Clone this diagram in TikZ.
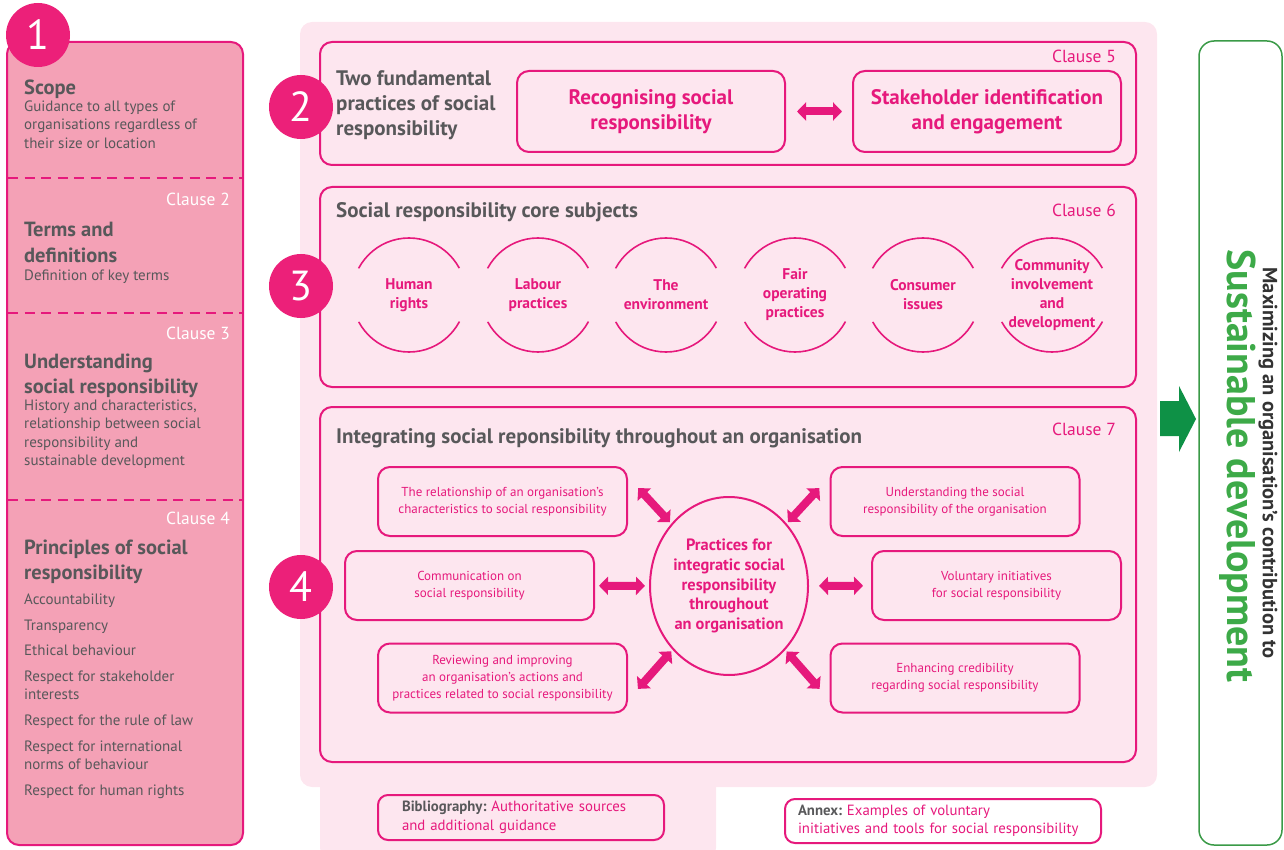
\documentclass[tikz,border=0pt]{standalone}
\usepackage{fontspec}
\setmainfont{PT Sans}
\usetikzlibrary{shapes.geometric,arrows.meta}

\definecolor{isopink}{HTML}{E6197C}
\definecolor{dotpink}{HTML}{EC2079}
\definecolor{panelpink}{HTML}{F4A1B6}
\definecolor{palepink}{HTML}{FDE6EF}
\definecolor{textgrey}{HTML}{58585A}
\definecolor{darktext}{HTML}{333333}
\definecolor{arrowgreen}{HTML}{0E9146}
\definecolor{textgreen}{HTML}{3DAA48}
\definecolor{boxgreen}{HTML}{3A9A47}

\newcommand{\fs}[2]{\fontsize{#1}{#2}\selectfont}

% multi-line nodes below sit on the baseline of their last line
\tikzset{
	numdot/.style={circle,fill=dotpink,minimum size=64pt,inner sep=0pt,text=white,font=\fs{42}{42}},
	clausebox/.style={draw=isopink,line width=2pt,rounded corners=12pt},
	divider/.style={isopink,line width=2pt,dash pattern=on 10pt off 6.5pt},
	lefthead/.style={anchor=base west,inner sep=0pt,text=textgrey,font=\bfseries\fs{20.5}{25},align=left},
	leftbody/.style={anchor=base west,inner sep=0pt,text=textgrey,font=\fs{15}{18.5},align=left},
	leftclause/.style={anchor=base east,inner sep=0pt,text=white,font=\fs{17.5}{17.5}},
	clausehead/.style={anchor=base west,inner sep=0pt,text=textgrey,font=\bfseries\fs{21}{25},align=left},
	clausetag/.style={anchor=base east,inner sep=0pt,text=isopink,font=\fs{17.5}{17.5}},
	practice/.style={draw=isopink,line width=2pt,rounded corners=12pt,minimum width=268pt,minimum height=81pt,inner sep=0pt,text=isopink,font=\bfseries\fs{21}{25},align=center},
	subject/.style={circle,draw=isopink,line width=1.6pt,minimum size=114pt,inner sep=0pt,text=isopink,font=\bfseries\fs{15.5}{19},align=center,dash pattern=on 123.4pt off 55.7pt,dash phase=151.2pt},
	activity/.style={draw=isopink,line width=2pt,rounded corners=12pt,minimum width=249pt,minimum height=69pt,inner sep=0pt,text=isopink,font=\fs{13}{17},align=center},
	hub/.style={ellipse,draw=isopink,line width=2pt,minimum width=158pt,minimum height=178pt,inner sep=0pt,text=isopink,font=\bfseries\fs{16.4}{19.8},align=center},
	extra/.style={draw=isopink,line width=2pt,rounded corners=10pt,inner ysep=4pt,align=left,text=isopink,font=\fs{14.8}{18.5}},
	fat/.style={isopink,line width=8pt,{Triangle[length=9pt,width=18pt]}-{Triangle[length=9pt,width=18pt]}},
}

\begin{document}
\begin{tikzpicture}[x=1pt,y=-1pt]
	\useasboundingbox (0,0) rectangle (1284,850);
	% backgrounds
	\fill[palepink,rounded corners=12pt] (300,22) rectangle (1157,787);
	\fill[palepink,rounded corners=10pt] (320,760) rectangle (716,858);
	\draw[fill=panelpink,draw=isopink,line width=2pt,rounded corners=12pt] (7,42) rectangle (243,845);
	\draw[divider] (8,178) -- (242,178);
	\draw[divider] (8,313) -- (242,313);
	\draw[divider] (8,500) -- (242,500);
	\draw[clausebox] (320,42) rectangle (1136,165);
	\draw[clausebox] (320,187) rectangle (1136,387);
	\draw[clausebox] (320,407) rectangle (1136,762);
	\draw[draw=boxgreen,line width=1.5pt,fill=white,rounded corners=15pt] (1199,41) rectangle (1282,845);

	% clauses 1 to 4
	\node[numdot] (one) at (38,35) {1};
	\node[lefthead] (scope) at (24,95) {Scope};
	\node[leftbody] (scopetxt) at (24,148.5) {Guidance to all types of\\organisations regardless of\\their size or location};
	\node[leftclause] (cl2) at (230,206) {Clause 2};
	\node[lefthead] (terms) at (24,262) {Terms and\\definitions};
	\node[leftbody] (termstxt) at (24,280.5) {Definition of key terms};
	\node[leftclause] (cl3) at (230,339) {Clause 3};
	\node[lefthead] (underst) at (24,393) {Understanding\\social responsibility};
	\node[leftbody] (understtxt) at (24,465.5) {History and characteristics,\\relationship between social\\responsibility and\\sustainable development};
	\node[leftclause] (cl4) at (230,524) {Clause 4};
	\node[lefthead] (princ) at (24,579) {Principles of social\\responsibility};
	\node[leftbody] (p1) at (24,604.5) {Accountability};
	\node[leftbody] (p2) at (24,630.5) {Transparency};
	\node[leftbody] (p3) at (24,655.5) {Ethical behaviour};
	\node[leftbody] (p4) at (24,699.5) {Respect for stakeholder\\interests};
	\node[leftbody] (p5) at (24,725.5) {Respect for the rule of law};
	\node[leftbody] (p6) at (24,769.5) {Respect for international\\norms of behaviour};
	\node[leftbody] (p7) at (24,795.5) {Respect for human rights};

	% clause 5
	\node[numdot] (two) at (301,107) {2};
	\node[clausehead] (fund) at (336,136) {Two fundamental\\practices of social\\responsibility};
	\node[clausetag] (cl5) at (1116,63) {Clause 5};
	\node[practice] (recog) at (651,111.5) {Recognising social\\responsibility};
	\node[practice] (stake) at (987,111.5) {Stakeholder identification\\and engagement};

	% clause 6
	\node[numdot] (three) at (301,286) {3};
	\node[clausehead] (core) at (336,218) {Social responsibility core subjects};
	\node[clausetag] (cl6) at (1116,217) {Clause 6};
	\node[subject] (human) at (409,295) {Human\\rights};
	\node[subject] (labour) at (538,295) {Labour\\practices};
	\node[subject] (environ) at (666,295) {The\\environment};
	\node[subject] (fair) at (795,295) {Fair\\operating\\practices};
	\node[subject] (consumer) at (923,295) {Consumer\\issues};
	\node[subject] (community) at (1052,295) {Community\\involvement\\and\\development};

	% clause 7
	\node[numdot] (four) at (301,587) {4};
	\node[clausehead] (integr) at (336,443) {Integrating social reponsibility throughout an organisation};
	\node[clausetag] (cl7) at (1116,435) {Clause 7};
	\node[hub] (prac) at (729,586) {Practices for\\integratic social\\responsibility\\throughout\\an organisation};
	\node[activity] (charac) at (502.5,501.5) {The relationship of an organisation’s\\characteristics to social responsibility};
	\node[activity] (underorg) at (955,501.5) {Understanding the social\\responsibility of the organisation};
	\node[activity] (commun) at (469.5,585.5) {Communication on\\social responsibility};
	\node[activity] (volunt) at (996.5,585.5) {Voluntary initiatives\\for social responsibility};
	\node[activity] (review) at (502.5,678) {Reviewing and improving\\an organisation’s actions and\\practices related to social responsibility};
	\node[activity] (credib) at (955,678) {Enhancing credibility\\regarding social responsibility};

	% bibliography and annex
	\node[extra,text width=238pt,inner xsep=24pt,minimum height=45pt] (biblio) at (521,817.5) {{\color{textgrey}\bfseries Bibliography:}~Authoritative sources\\and additional guidance};
	\node[extra,text width=290pt,inner xsep=13pt,minimum height=44pt] (annex) at (943,821) {{\color{textgrey}\bfseries Annex:}~Examples of voluntary\\initiatives and tools for social responsibility};

	% sustainable development
	\fill[arrowgreen] (1160,401) -- (1179,401) -- (1179,386) -- (1196,419) -- (1179,452) -- (1179,436) -- (1160,436) -- cycle;
	\node[rotate=-90,text=textgreen,font=\bfseries\fs{40}{40}] (sustdev) at (1238,466) {Sustainable development};
	\node[rotate=-90,text=darktext,font=\bfseries\fs{20.5}{20.5}] (maxim) at (1268,463) {Maximizing an organisation’s contribution to};

	\path[fat]
	% clause 5 arrow
	(recog) edge[shorten <=11pt,shorten >=10pt] (stake)
	% arrows round the hub
	(charac.11) edge[shorten <=15pt,shorten >=2pt] (prac)
	(underorg.169) edge[shorten <=15pt,shorten >=2pt] (prac)
	(commun) edge[shorten <=4pt,shorten >=4pt] (prac)
	(volunt) edge[shorten <=8pt,shorten >=10pt] (prac)
	(review.-10) edge[shorten <=15pt,shorten >=2pt] (prac)
	(credib.190) edge[shorten <=15pt,shorten >=2pt] (prac);
\end{tikzpicture}
\end{document}
